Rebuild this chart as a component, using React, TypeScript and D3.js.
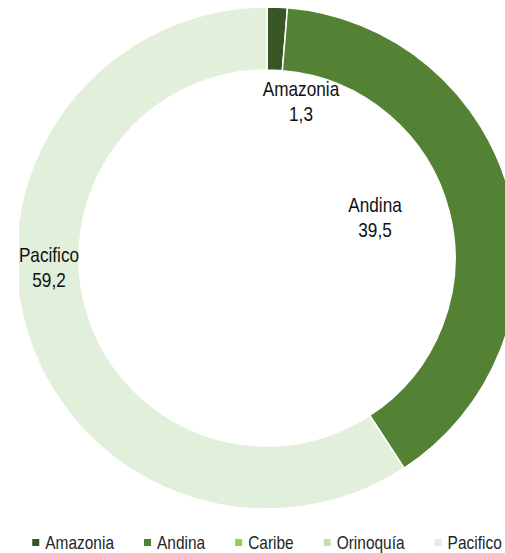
import { useEffect, useRef } from 'react';
import * as d3 from 'd3';

const regions = ['Amazonia', 'Andina', 'Caribe', 'Orinoquía', 'Pacifico'];
const shares = [1.3, 39.5, 0, 0, 59.2];
const colors = ['#375623', '#548235', '#8fd04c', '#c5e0b4', '#e2efda'];

// hand-placed label spots, relative to the donut centre
const labelOffsets: Record<string, [number, number]> = {
  Amazonia: [34, -162],
  Andina: [108, -46],
  Pacifico: [-218, 4],
};

export default function App() {
  const ref = useRef<SVGSVGElement>(null);

  useEffect(() => {
    const width = 505;
    const cx = 267;
    const cy = 258;
    const outer = 251;
    const inner = 188;

    const svg = d3.select(ref.current);
    svg.selectAll('*').remove();

    const fmt = d3.formatLocale({ decimal: ',', thousands: '.', grouping: [3], currency: ['', ''] }).format('.1f');

    svg.append('defs').append('clipPath').attr('id', 'plotClip')
      .append('rect').attr('x', 19).attr('y', 0).attr('width', width - 19).attr('height', 520);

    const data = regions.map((name, i) => ({ name, value: shares[i], color: colors[i] }));

    const pie = d3.pie<any>().sort(null).value(d => d.value);
    const arc = d3.arc<any>().innerRadius(inner).outerRadius(outer);

    const g = svg.append('g')
      .attr('clip-path', 'url(#plotClip)')
      .append('g')
      .attr('transform', `translate(${cx},${cy})`);

    g.selectAll('path')
      .data(pie(data).filter(d => d.data.value > 0))
      .enter().append('path')
      .attr('d', arc)
      .attr('fill', d => d.data.color)
      .attr('stroke', '#ffffff')
      .attr('stroke-width', 1.5);

    // data labels
    const labels = svg.append('g')
      .attr('font-family', '"Liberation Sans", Arial, sans-serif')
      .attr('font-size', 20)
      .attr('fill', '#111111')
      .attr('text-anchor', 'middle');

    data.filter(d => labelOffsets[d.name]).forEach(d => {
      const [dx, dy] = labelOffsets[d.name];
      const lg = labels.append('g')
        .attr('transform', `translate(${cx + dx},${cy + dy}) scale(0.86,1)`);
      lg.append('text').attr('y', 0).text(d.name);
      lg.append('text').attr('y', 25).text(fmt(d.value));
    });

    // legend
    const legend = svg.append('g')
      .attr('font-family', '"Liberation Sans", Arial, sans-serif')
      .attr('font-size', 18)
      .attr('fill', '#262626');

    let x = 0;
    data.forEach(d => {
      const item = legend.append('g').attr('transform', `translate(${x},0)`);
      item.append('rect')
        .attr('x', 0).attr('y', -10)
        .attr('width', 7).attr('height', 7)
        .attr('fill', d.color);
      const t = item.append('g').attr('transform', 'translate(13,0) scale(0.86,1)')
        .append('text').text(d.name);
      const w = (t.node() as SVGTextElement).getComputedTextLength() * 0.86;
      x += 13 + w + 30;
    });
    const total = x - 30;
    legend.attr('transform', `translate(${cx - total / 2},549)`);
  }, []);

  return (
    <svg
      ref={ref}
      width={505}
      height={553}
      style={{ position: 'absolute', left: 0, top: 0, background: '#ffffff' }}
    />
  );
}
